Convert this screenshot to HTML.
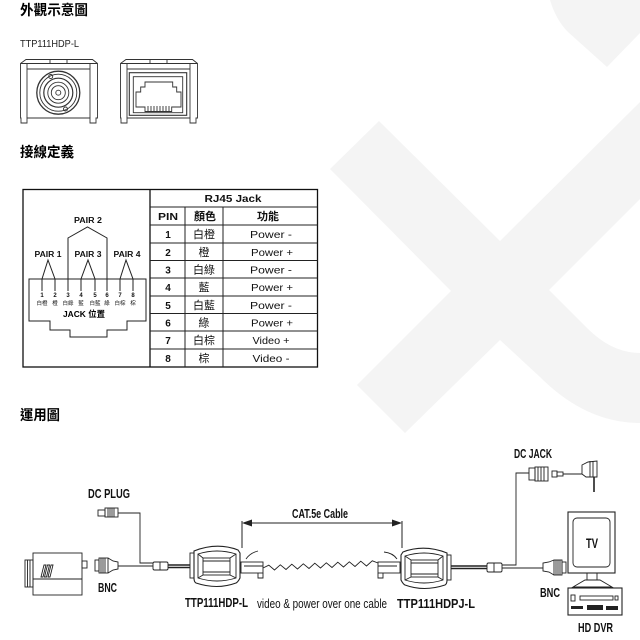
<!DOCTYPE html>
<html><head><meta charset="utf-8">
<style>
html,body{margin:0;padding:0;background:#fff;}
svg{display:block;}
.cj{font-family:"Liberation Sans","Noto Sans CJK TC",sans-serif;}
.nr{font-family:"Liberation Sans Narrow","Liberation Sans",sans-serif;font-weight:bold;}
</style></head>
<body>
<svg width="640" height="640" viewBox="0 0 640 640" xmlns="http://www.w3.org/2000/svg">
<!-- watermark -->
<g fill="#f4f4f4">
<path d="M379,121 L500,241 L640,102 L640,199 L549,290 L587,328 Q612,353 640,353 L640,423 Q586,423 540,377 L500,340 L405,433 L357,385 L451,291 L330,169 Z"/>
<path d="M550,0 Q556,20 568,32 L607,67 L640,33 L640,0 Z"/>
</g>

<!-- titles -->
<text x="20" y="15" class="cj" font-size="14" font-weight="bold" textLength="68" lengthAdjust="spacingAndGlyphs">外觀示意圖</text>
<text x="20" y="47" font-family="Liberation Sans, sans-serif" font-size="10" fill="#222" textLength="59" lengthAdjust="spacingAndGlyphs">TTP111HDP-L</text>
<text x="20" y="157" class="cj" font-size="14" font-weight="bold" textLength="54" lengthAdjust="spacingAndGlyphs">接線定義</text>
<text x="20" y="420" class="cj" font-size="14" font-weight="bold" textLength="40" lengthAdjust="spacingAndGlyphs">運用圖</text>

<!-- top devices -->
<g fill="none" stroke="#333" stroke-width="0.9">
  <g id="dev">
    <path d="M26,59.5 L92.5,59.5 L97.5,63.5 L97.5,118 L96,118 L96,123 L90,123 L90,118 L27,118 L27,123 L21,123 L21,118 L20.5,118 L20.5,63.5 Z"/>
    <path d="M20.5,63.5 L97.5,63.5 M27,63.5 L27,118 M90,63.5 L90,118 M27,69 L90,69 M50,59.5 L50,63.5 M67,59.5 L67,63.5"/>
  </g>
  <g transform="translate(100,0)">
    <path d="M26,59.5 L92.5,59.5 L97.5,63.5 L97.5,118 L96,118 L96,123 L90,123 L90,118 L27,118 L27,123 L21,123 L21,118 L20.5,118 L20.5,63.5 Z"/>
    <path d="M20.5,63.5 L97.5,63.5 M27,63.5 L27,118 M90,63.5 L90,118 M27,69 L90,69 M50,59.5 L50,63.5 M67,59.5 L67,63.5"/>
  </g>
  <!-- BNC -->
  <circle cx="58.3" cy="92.7" r="21.5" stroke-width="1.3"/>
  <circle cx="58.3" cy="92.7" r="18.5"/>
  <circle cx="58.3" cy="92.7" r="14.5" stroke-width="1.2"/>
  <circle cx="58.3" cy="92.7" r="10.5"/>
  <circle cx="58.3" cy="92.7" r="7"/>
  <circle cx="58.3" cy="92.7" r="2.5"/>
  <circle cx="50.7" cy="76.5" r="2"/>
  <circle cx="65.5" cy="109" r="2"/>
  <!-- RJ45 port -->
  <rect x="129.3" y="72.7" width="57.4" height="42.6" stroke-width="1.1"/>
  <rect x="133.3" y="76.7" width="49.4" height="36"/>
  <path d="M136,107 L136,92 L140.7,92 L140.7,87 L145,87 L145,82 L172.7,82 L172.7,87 L176.7,87 L176.7,92 L181,92 L181,107 L171.7,107 L171.7,111.5 L145,111.5 L145,107 Z"/>
  <path d="M148,106 V111 M151,106 V111 M154,106 V111 M157,106 V111 M160,106 V111 M163,106 V111 M166,106 V111 M169,106 V111"/>
</g>

<!-- pin diagram + table frame -->
<g fill="none" stroke="#111" stroke-width="1.3">
  <rect x="23" y="189.5" width="294.5" height="177.5"/>
  <line x1="150" y1="189.5" x2="150" y2="367"/>
</g>
<g fill="none" stroke="#222" stroke-width="1">
  <path d="M150,207 H317.5 M150,225 H317.5 M150,243 H317.5 M150,260.5 H317.5 M150,278 H317.5 M150,296 H317.5 M150,313.5 H317.5 M150,331 H317.5 M150,349 H317.5"/>
  <path d="M185,207 V367 M223,207 V367"/>
  <!-- pair brackets -->
  <path d="M42,291 L42,279 L48,260 L55,279 L55,291"/>
  <path d="M81,291 L81,279 L88,260 L95,279 L95,291"/>
  <path d="M120,291 L120,279 L126,260 L133,279 L133,291"/>
  <path d="M68,291 L68,238 L87.5,227 L107,238 L107,291"/>
  <!-- jack outline -->
  <path d="M29,279 L146,279 L146,321 L127,321 L127,330 L107,330 L107,337 L70,337 L70,330 L50,330 L50,321 L29,321 Z"/>
</g>
<g font-family="Liberation Sans, sans-serif" font-weight="bold" font-size="8" text-anchor="middle" fill="#111">
  <text x="88" y="223" textLength="28" lengthAdjust="spacingAndGlyphs">PAIR 2</text>
  <text x="48" y="257" textLength="27" lengthAdjust="spacingAndGlyphs">PAIR 1</text>
  <text x="88" y="257" textLength="27" lengthAdjust="spacingAndGlyphs">PAIR 3</text>
  <text x="127" y="257" textLength="27" lengthAdjust="spacingAndGlyphs">PAIR 4</text>
</g>
<g font-family="Liberation Sans, sans-serif" font-weight="bold" font-size="6" text-anchor="middle" fill="#111">
  <text x="42" y="297">1</text><text x="55" y="297">2</text><text x="68" y="297">3</text><text x="81" y="297">4</text>
  <text x="95" y="297">5</text><text x="107" y="297">6</text><text x="120" y="297">7</text><text x="133" y="297">8</text>
</g>
<g class="cj" font-size="5.5" text-anchor="middle" fill="#111">
  <text x="42" y="305">白橙</text><text x="55" y="305">橙</text><text x="68" y="305">白綠</text><text x="81" y="305">藍</text>
  <text x="95" y="305">白藍</text><text x="107" y="305">綠</text><text x="120" y="305">白棕</text><text x="133" y="305">棕</text>
</g>
<text x="84" y="317" class="cj" font-size="8.5" font-weight="bold" text-anchor="middle" textLength="42" lengthAdjust="spacingAndGlyphs">JACK 位置</text>

<!-- table text -->
<g font-family="Liberation Sans, sans-serif" font-weight="bold" font-size="10" text-anchor="middle" fill="#111">
  <text x="233" y="202" textLength="57" lengthAdjust="spacingAndGlyphs">RJ45 Jack</text>
  <text x="168" y="220" textLength="20" lengthAdjust="spacingAndGlyphs">PIN</text>
  <text x="168" y="238">1</text><text x="168" y="256">2</text><text x="168" y="273.5">3</text><text x="168" y="291">4</text>
  <text x="168" y="309">5</text><text x="168" y="326.5">6</text><text x="168" y="344">7</text><text x="168" y="362">8</text>
</g>
<g class="cj" font-size="11" text-anchor="middle" fill="#111">
  <text x="205" y="220" font-weight="bold">顏色</text>
  <text x="268" y="220" font-weight="bold">功能</text>
  <text x="204" y="238">白橙</text><text x="204" y="256">橙</text><text x="204" y="273.5">白綠</text><text x="204" y="291">藍</text>
  <text x="204" y="309">白藍</text><text x="204" y="326.5">綠</text><text x="204" y="344">白棕</text><text x="204" y="362">棕</text>
</g>
<g font-family="Liberation Sans, sans-serif" font-size="10.5" text-anchor="middle" fill="#111">
  <text x="271" y="238" textLength="42" lengthAdjust="spacingAndGlyphs">Power -</text>
  <text x="272" y="256" textLength="42" lengthAdjust="spacingAndGlyphs">Power +</text>
  <text x="271" y="273.5" textLength="42" lengthAdjust="spacingAndGlyphs">Power -</text>
  <text x="272" y="291" textLength="42" lengthAdjust="spacingAndGlyphs">Power +</text>
  <text x="271" y="309" textLength="42" lengthAdjust="spacingAndGlyphs">Power -</text>
  <text x="272" y="326.5" textLength="42" lengthAdjust="spacingAndGlyphs">Power +</text>
  <text x="271" y="344" textLength="37" lengthAdjust="spacingAndGlyphs">Video +</text>
  <text x="271" y="362" textLength="37" lengthAdjust="spacingAndGlyphs">Video -</text>
</g>

<!-- bottom diagram -->
<g fill="none" stroke="#222" stroke-width="0.9">
  <!-- camera -->
  <rect x="25" y="560" width="8" height="27"/>
  <path d="M27.5,560 V587 M30,560 V587"/>
  <rect x="33" y="553" width="49" height="42"/>
  <line x1="33" y1="579" x2="82" y2="579"/>
  <rect x="82" y="561" width="5" height="7"/>
  <path d="M41,577 L44,565 L46,565 L43,577 Z M44.5,577 L47.5,565 L49.5,565 L46.5,577 Z M48,577 L51,565 L53,565 L50,577 Z"/>
  <!-- BNC left -->
  <rect x="95" y="560" width="4" height="11"/>
  <rect x="99" y="558" width="9" height="15"/>
  <path d="M101,558 V573 M103,558 V573 M105,558 V573"/>
  <path d="M108,558 L113,561 L118,562 L118,569 L113,570 L108,573"/>
  <line x1="118" y1="566" x2="153" y2="566"/>
  <!-- DC plug -->
  <rect x="98" y="510" width="7" height="6"/>
  <rect x="105" y="508" width="13" height="9"/>
  <path d="M108,508 V517 M110,508 V517 M112,508 V517 M114,508 V517"/>
  <path d="M118,513 L140,513 L140,563 L153,563"/>
  <!-- splice left -->
  <rect x="153" y="562" width="15" height="8" rx="1.5"/>
  <line x1="160" y1="562" x2="160" y2="570"/>
  <!-- thick cable -->
  <path d="M168,565 L190,565 M168,567.5 L190,567.5" stroke-width="1.4"/>
  <!-- device L -->
  <g id="devb" transform="translate(190,545)">
    <rect x="0" y="8" width="4" height="25"/>
    <path d="M4,6 Q27,-3 48,5 L50,8 L50,33 Q48,37 46,38 Q27,45 6,38 Q4,37 4,33 Z" stroke-width="1.1"/>
    <path d="M8,9 Q27,3 46,9 L46,33 Q27,39 8,33 Z"/>
    <rect x="13" y="13" width="27" height="17"/>
    <path d="M13,16 H40 M13,27 H40"/>
    <path d="M13,13 L8,9 M40,13 L46,9 M40,30 L46,33 M13,30 L8,33"/>
  </g>
  <!-- device R -->
  <g transform="translate(451,547) scale(-1,1)">
    <rect x="0" y="8" width="4" height="25"/>
    <path d="M4,6 Q27,-3 48,5 L50,8 L50,33 Q48,37 46,38 Q27,45 6,38 Q4,37 4,33 Z" stroke-width="1.1"/>
    <path d="M8,9 Q27,3 46,9 L46,33 Q27,39 8,33 Z"/>
    <rect x="13" y="13" width="27" height="17"/>
    <path d="M13,16 H40 M13,27 H40"/>
    <path d="M13,13 L8,9 M40,13 L46,9 M40,30 L46,33 M13,30 L8,33"/>
  </g>
  <!-- RJ45 plugs -->
  <rect x="241" y="562" width="22" height="11"/>
  <path d="M244,566 H263 M258,573 V578 H263 V573"/>
  <path d="M246,559 Q250,553 258,551"/>
  <rect x="378" y="562" width="22" height="11"/>
  <path d="M378,566 H397 M378,573 V578 H383 V573"/>
  <path d="M384,552 Q393,553 397,559"/>
  <!-- zigzag -->
  <polyline points="263,568 268.8,565.2 274.5,570 280.3,564.8 286,569.5 291.8,564.2 297.5,569 303.3,563.8 309,568.5 314.8,563.2 320.5,568 326.3,562.8 332,567.5 337.8,562.2 343.5,567 349.3,561.8 355,566.5 360.8,561.2 366.5,566 372.3,560.8 378,563"/>
  <!-- right cable -->
  <path d="M451,566 L487,566 M451,568.5 L487,568.5" stroke-width="1.4"/>
  <rect x="487" y="563" width="15" height="9" rx="1.5"/>
  <line x1="494" y1="563" x2="494" y2="572"/>
  <path d="M502,565 L516,565 L516,473 L529,473"/>
  <line x1="502" y1="568" x2="543" y2="568"/>
  <!-- BNC right -->
  <path d="M554,560 L549,562 L543,563 L543,571 L549,572 L554,575"/>
  <rect x="554" y="560" width="8" height="15"/>
  <path d="M556,560 V575 M558,560 V575 M560,560 V575"/>
  <rect x="562" y="562" width="4" height="11"/>
  <!-- DC jack -->
  <rect x="529" y="468" width="6" height="12"/>
  <rect x="535" y="467" width="13" height="14"/>
  <path d="M538,467 V481 M541,467 V481 M544,467 V481"/>
  <rect x="552" y="471" width="5" height="6"/>
  <rect x="557" y="472" width="6" height="4"/>
  <line x1="563" y1="474" x2="582" y2="474"/>
  <path d="M582,465 L588,462 L597,461 L597,477 L586,477 L582,474 Z"/>
  <path d="M590,461 V477 M593,461 V477"/>
  <path d="M594,477 L594,492" stroke-width="1.6"/>
  <!-- TV -->
  <rect x="568" y="512" width="47" height="61" stroke-width="1.1"/>
  <rect x="573" y="518" width="37" height="49" rx="4"/>
  <path d="M587,573 V580 M597,573 V580 M585,580 L600,580 L612,587 L573,587 Z"/>
  <!-- DVR -->
  <rect x="568" y="588" width="54" height="27" stroke-width="1.1"/>
  <rect x="580" y="596" width="33" height="4"/>
  <rect x="571" y="595" width="4" height="6"/>
  <rect x="615" y="596" width="3" height="4"/>
</g>
<g fill="#222">
  <polygon points="242,523 252,519.5 252,526.5"/>
  <polygon points="402,523 392,519.5 392,526.5"/>
  <rect x="587" y="605" width="16" height="5"/>
  <rect x="606" y="606" width="12" height="4"/>
  <rect x="571" y="606" width="12" height="3"/>
</g>
<g stroke="#222" stroke-width="1" fill="none">
  <path d="M242,521 V548 M402,521 V548 M244,523 H400"/>
</g>

<!-- bottom labels -->
<g class="nr" fill="#111" font-size="13">
  <text x="88" y="498" textLength="42" lengthAdjust="spacingAndGlyphs">DC PLUG</text>
  <text x="98" y="592" textLength="19" lengthAdjust="spacingAndGlyphs">BNC</text>
  <text x="292" y="518" textLength="56" lengthAdjust="spacingAndGlyphs">CAT.5e Cable</text>
  <text x="185" y="607" textLength="63" lengthAdjust="spacingAndGlyphs">TTP111HDP-L</text>
  <text x="397" y="608" textLength="78" lengthAdjust="spacingAndGlyphs">TTP111HDPJ-L</text>
  <text x="514" y="458" textLength="38" lengthAdjust="spacingAndGlyphs">DC JACK</text>
  <text x="540" y="597" textLength="20" lengthAdjust="spacingAndGlyphs">BNC</text>
  <text x="578" y="632" textLength="35" lengthAdjust="spacingAndGlyphs">HD DVR</text>
  <text x="586" y="548" font-size="14" textLength="12" lengthAdjust="spacingAndGlyphs">TV</text>
</g>
<text x="257" y="608" font-family="Liberation Sans Narrow, Liberation Sans, sans-serif" font-size="13" fill="#111" textLength="130" lengthAdjust="spacingAndGlyphs">video &amp; power over one cable</text>
</svg>
</body></html>
